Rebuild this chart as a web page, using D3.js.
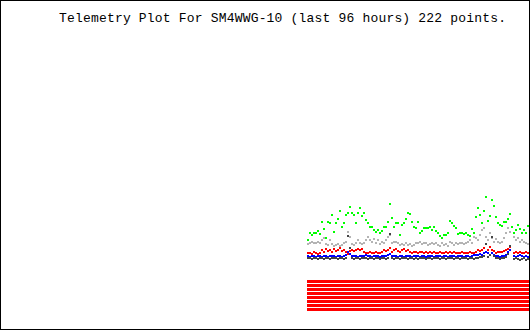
<!DOCTYPE html>
<html>
<head>
<meta charset="utf-8">
<script src="https://cdn.jsdelivr.net/npm/d3@7/dist/d3.min.js"></script>
<style>
  body { margin: 0; background: #fff; }
  svg { display: block; }
</style>
</head>
<body>
<div id="chart"></div>
<script>
var title = "Telemetry Plot For SM4WWG-10 (last 96 hours) 222 points.";

// sample index across the 96 hour window (null = no packet)
var green = [22,29,27,29,29,31,28,40,33,24,
  40,39,47,30,39,43,51,35,39,47,
  49,55,49,47,39,49,54,46,49,42,
  39,35,35,32,30,32,29,31,35,35,
  40,58,44,35,39,39,27,37,39,43,
  49,48,40,35,34,40,29,31,34,34,
  34,35,32,35,31,29,26,24,27,27,
  29,41,39,36,34,28,29,29,28,29,
  27,26,33,29,45,54,47,39,51,65,
  41,46,62,56,45,39,37,36,40,40,
  43,48,35,29,32,37,33,29,32,29,36];

var gray = [18,19,20,19,19,20,19,22,24,18,
  17,22,18,16,17,18,16,17,19,20,
  30,25,18,17,19,22,19,18,19,22,
  25,22,20,23,19,22,18,20,19,22,
  25,27,19,20,20,19,17,18,17,19,
  17,18,16,17,19,19,20,18,19,19,
  17,18,19,18,19,17,16,19,17,18,
  16,20,19,17,19,18,19,19,18,19,
  20,22,19,25,24,22,27,32,34,25,
  22,29,24,20,23,20,19,20,24,29,
  34,30,null,25,22,24,20,22,20,19,18];

var red = [9,9,8,10,9,8,9,12,10,13,
  11,12,10,13,11,12,14,11,12,10,
  8,11,12,11,12,13,12,13,10,9,
  9,10,9,9,10,9,9,10,12,11,
  12,14,10,12,13,11,10,12,13,11,
  12,10,9,10,10,9,10,10,9,10,
  9,10,9,10,9,9,10,9,9,10,
  9,10,9,10,9,9,9,10,9,9,
  9,10,9,9,10,12,11,12,14,10,
  12,15,12,11,9,10,10,10,11,12,
  13,15,null,9,10,9,10,9,9,10,9];

var blue = [6,5,6,6,5,6,6,5,6,6,
  5,6,6,6,5,6,6,5,6,7,
  10,8,6,6,6,5,6,6,6,7,
  6,6,5,6,6,6,5,6,6,6,
  7,8,6,6,6,5,6,6,5,6,
  6,6,5,6,6,6,5,6,6,5,
  6,6,6,5,6,6,6,5,6,6,
  5,6,6,6,5,6,6,6,5,6,
  6,5,6,7,7,7,8,7,9,10,
  9,7,9,7,6,6,5,6,6,7,
  10,12,null,6,5,6,7,6,5,6,5];

var dark = [4,4,3,4,4,3,4,4,3,4,
  4,3,4,4,4,3,4,4,3,4,
  26,14,4,3,4,4,3,4,4,4,
  3,4,4,3,4,4,3,4,4,3,
  4,28,4,3,4,4,3,4,4,4,
  3,4,4,3,4,3,4,4,4,3,
  4,4,3,4,4,4,3,4,4,3,
  4,4,4,3,4,4,3,4,4,4,
  3,4,4,3,4,4,5,5,6,18,
  5,7,25,6,4,4,3,4,4,5,
  8,16,null,3,4,3,2,3,4,2,3];

// digital bits: runs of samples where the bit is on [first, last]
var bitRuns = [
  [[0, 110]], [[0, 110]], [[0, 110]], [[0, 110]],
  [[0, 110]], [[0, 110]], [[0, 110]], [[0, 110]]
];

var series = [
  { name: "gray", color: "#b4b4b4", values: gray },
  { name: "green", color: "#00ff00", values: green },
  { name: "red", color: "#ff0000", values: red },
  { name: "blue", color: "#0000ff", values: blue },
  { name: "dark", color: "#444444", values: dark }
];

var width = 530, height = 330;

var svg = d3.select("#chart").append("svg")
  .attr("width", width)
  .attr("height", height)
  .attr("shape-rendering", "crispEdges");

svg.append("rect")
  .attr("x", 0.5).attr("y", 0.5)
  .attr("width", width - 1).attr("height", height - 1)
  .attr("fill", "#fff")
  .attr("stroke", "#000");

svg.append("text")
  .attr("x", 59)
  .attr("y", 22)
  .attr("textLength", 447)
  .attr("lengthAdjust", "spacing")
  .style("font-family", "'Liberation Mono', monospace")
  .style("font-size", "13px")
  .attr("fill", "#000")
  .text(title);

var x = d3.scaleLinear().domain([0, green.length - 1]).range([308, 528]);
var y = d3.scaleLinear().domain([0, 100]).range([262, 162]);
var bitY = d3.scaleLinear().domain([0, bitRuns.length]).range([280, 312]);

// analog channels as 2px dots
series.forEach(function(s) {
  svg.append("g")
    .attr("fill", s.color)
    .selectAll("rect")
    .data(s.values.map(function(v, i) { return { i: i, v: v }; })
      .filter(function(d) { return d.v !== null; }))
    .join("rect")
    .attr("x", function(d) { return Math.round(x(d.i)) - 1; })
    .attr("y", function(d) { return Math.round(y(d.v)) - 1; })
    .attr("width", 2)
    .attr("height", 2);
});

// digital channels as bars
bitRuns.forEach(function(runs, b) {
  svg.append("g")
    .attr("fill", "#ff0000")
    .selectAll("rect")
    .data(runs)
    .join("rect")
    .attr("x", function(r) { return x(r[0]) - 1; })
    .attr("y", bitY(b))
    .attr("width", function(r) { return x(r[1]) - x(r[0]) + 2; })
    .attr("height", 3);
});
</script>
</body>
</html>
